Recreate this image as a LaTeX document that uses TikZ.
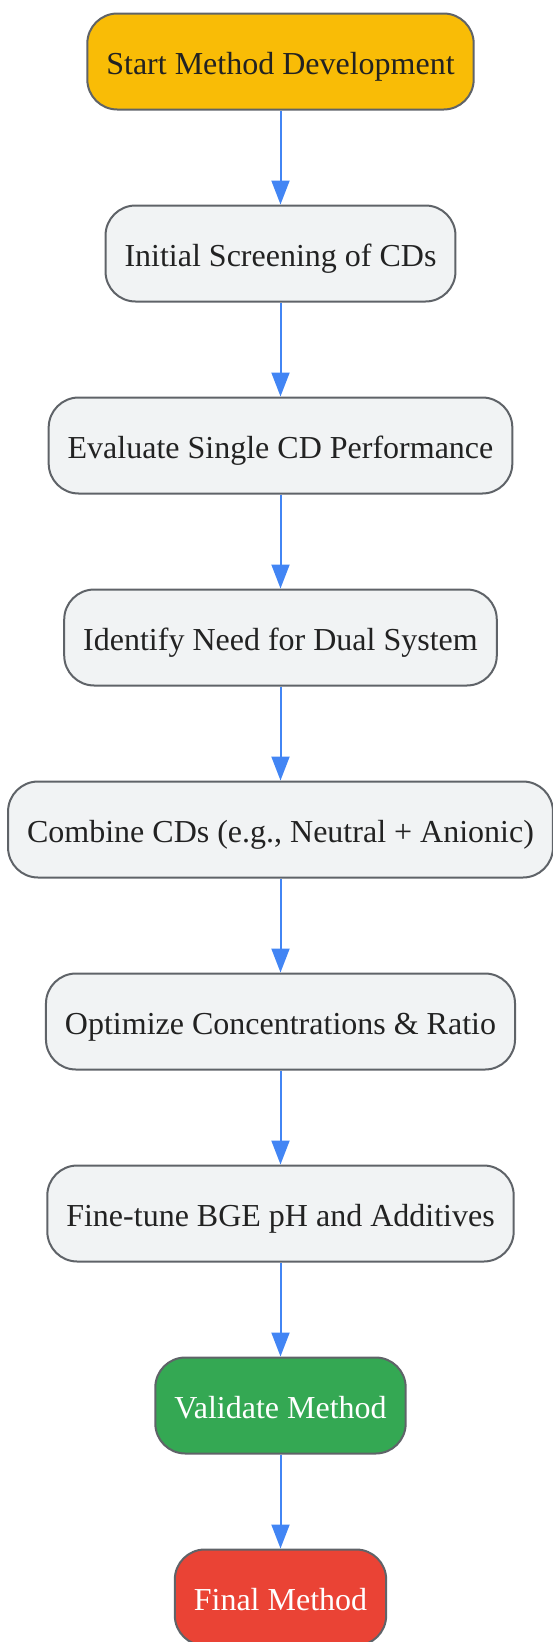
\documentclass[tikz,border=0pt]{standalone}
\usepackage{fontspec}
\setmainfont{Liberation Serif}
\usetikzlibrary{shapes.geometric, arrows.meta, positioning}

\definecolor{startyellow}{HTML}{F9BC06}
\definecolor{procgray}{HTML}{F1F3F4}
\definecolor{edgegray}{HTML}{5F6368}
\definecolor{validgreen}{HTML}{34A853}
\definecolor{endred}{HTML}{EA4335}
\definecolor{arrowblue}{HTML}{4285F4}
\definecolor{textdark}{HTML}{222222}

\begin{document}
\begin{tikzpicture}[
    node distance=94pt,
    base/.style={rectangle, draw=edgegray, line width=2pt, rounded corners=30pt, minimum height=96pt, inner xsep=19pt, text height=29pt, text depth=4pt, font=\fontsize{32}{38}\selectfont, text=textdark},
    startbox/.style={base, fill=startyellow},
    procbox/.style={base, fill=procgray},
    validbox/.style={base, fill=validgreen, text=white},
    endbox/.style={base, fill=endred, text=white},
    flow/.style={draw=arrowblue, line width=2pt, -{Triangle[length=24pt, width=18pt]}}
]

\useasboundingbox (0,0) rectangle (552pt,-1642pt);

% Start
\node[startbox] (start) at (280.5pt,-61.5pt) {Start Method Development};

% Method development steps
\node[procbox, below=of start] (screen) {Initial Screening of CDs};
\node[procbox, below=of screen] (single) {Evaluate Single CD Performance};
\node[procbox, below=of single] (dual) {Identify Need for Dual System};
\node[procbox, below=of dual] (combine) {Combine CDs (e.g., Neutral + Anionic)};
\node[procbox, below=of combine] (optimize) {Optimize Concentrations \& Ratio};
\node[procbox, below=of optimize] (finetune) {Fine-tune BGE pH and Additives};

% Validation and end
\node[validbox, below=of finetune] (validate) {Validate Method};
\node[endbox, below=of validate] (final) {Final Method};

% Arrows
\draw[flow] (start) -- (screen);
\draw[flow] (screen) -- (single);
\draw[flow] (single) -- (dual);
\draw[flow] (dual) -- (combine);
\draw[flow] (combine) -- (optimize);
\draw[flow] (optimize) -- (finetune);
\draw[flow] (finetune) -- (validate);
\draw[flow] (validate) -- (final);

\end{tikzpicture}
\end{document}
